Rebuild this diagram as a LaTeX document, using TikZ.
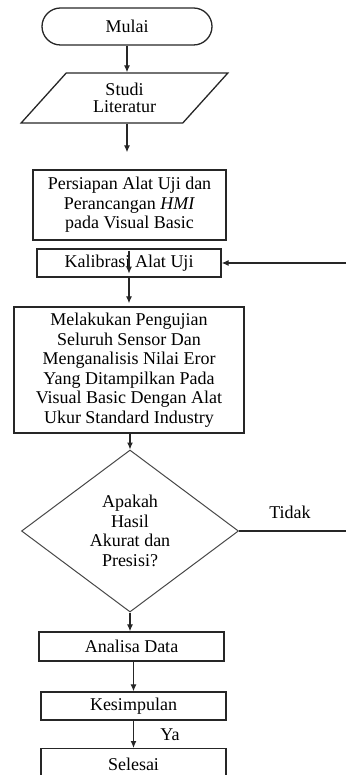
\documentclass[tikz,border=0pt]{standalone}
\usepackage{fontspec}
\setmainfont{Liberation Serif}
\usetikzlibrary{arrows.meta,shapes.geometric,shapes.misc}
\definecolor{LineClr}{rgb}{0.15,0.15,0.15}

\begin{document}
\begin{tikzpicture}[x=1pt,y=-1pt,
  font=\fontsize{18}{19.5}\selectfont,
  proc/.style={draw=LineClr,line width=1.3pt,align=center,inner sep=1pt},
  arr/.style={-{Latex[length=7pt,width=6pt]},line width=1.2pt,LineClr}]
\useasboundingbox (0,0) rectangle (346,775);
\clip (0,0) rectangle (346,775);

\node[proc,rounded rectangle,minimum width=172pt,minimum height=37pt] (mulai) at (127,26.5) {Mulai};
\node[proc,trapezium,trapezium left angle=52,trapezium right angle=128,trapezium stretches=true,
  minimum width=207pt,minimum height=50pt] (studi) at (124.5,98) {Studi\\[-2pt]Literatur};
\node[proc,minimum width=193pt,minimum height=70pt] (siap) at (129.5,205)
  {Persiapan Alat Uji dan\\Perancangan \textit{HMI}\\pada Visual Basic};
\node[proc,minimum width=184pt,minimum height=28pt] (kal) at (129,263) {Kalibrasi Alat Uji};
\node[proc,minimum width=230pt,minimum height=126pt] (uji) at (129,370)
  {Melakukan Pengujian\\Seluruh Sensor Dan\\Menganalisis Nilai Eror\\Yang Ditampilkan Pada\\Visual Basic Dengan Alat\\Ukur Standard Industry};
\node[diamond,draw=LineClr!85,line width=1pt,inner sep=0pt,minimum width=217pt,minimum height=162pt,align=center]
  (cek) at (130,531) {Apakah\\Hasil\\Akurat dan\\Presisi?};
\node[proc,minimum width=185pt,minimum height=29pt] (anl) at (131.5,646.5) {Analisa Data};
\node[proc,minimum width=185pt,minimum height=28pt] (kes) at (133.5,706) {Kesimpulan};
\node[proc,anchor=north,minimum width=185pt,minimum height=31pt] (selesai) at (133.5,748) {Selesai};

\coordinate (tidakEnd) at (346,532);
\coordinate (ulang) at (346,263);

\draw[arr] (mulai.south) -- (mulai.south |- studi.north);
\draw[arr,shorten >=17pt] (studi.south -| mulai.south) -- (siap.north -| mulai.south);
\draw[arr] ([yshift=-3pt]kal.north) -- ([yshift=4pt]kal.south);
\draw[arr,shorten >=3pt] (kal.south) -- (uji.north);
\draw[arr] (uji.south -| cek.north) -- (cek.north);
\draw[arr] (cek.south) -- (cek.south |- anl.north);
\draw[arr] (anl.south -| kes.south) -- (kes.north);
\draw[arr] (kes.south) -- (selesai.north);
\draw[line width=1.2pt,LineClr] (cek.east) -- (cek.east -| tidakEnd);
\draw[arr] (ulang) -- (kal.east);

\node (tidak) at (290,512) {Tidak};
\node (ya) at (170,735) {Ya};
\end{tikzpicture}
\end{document}
